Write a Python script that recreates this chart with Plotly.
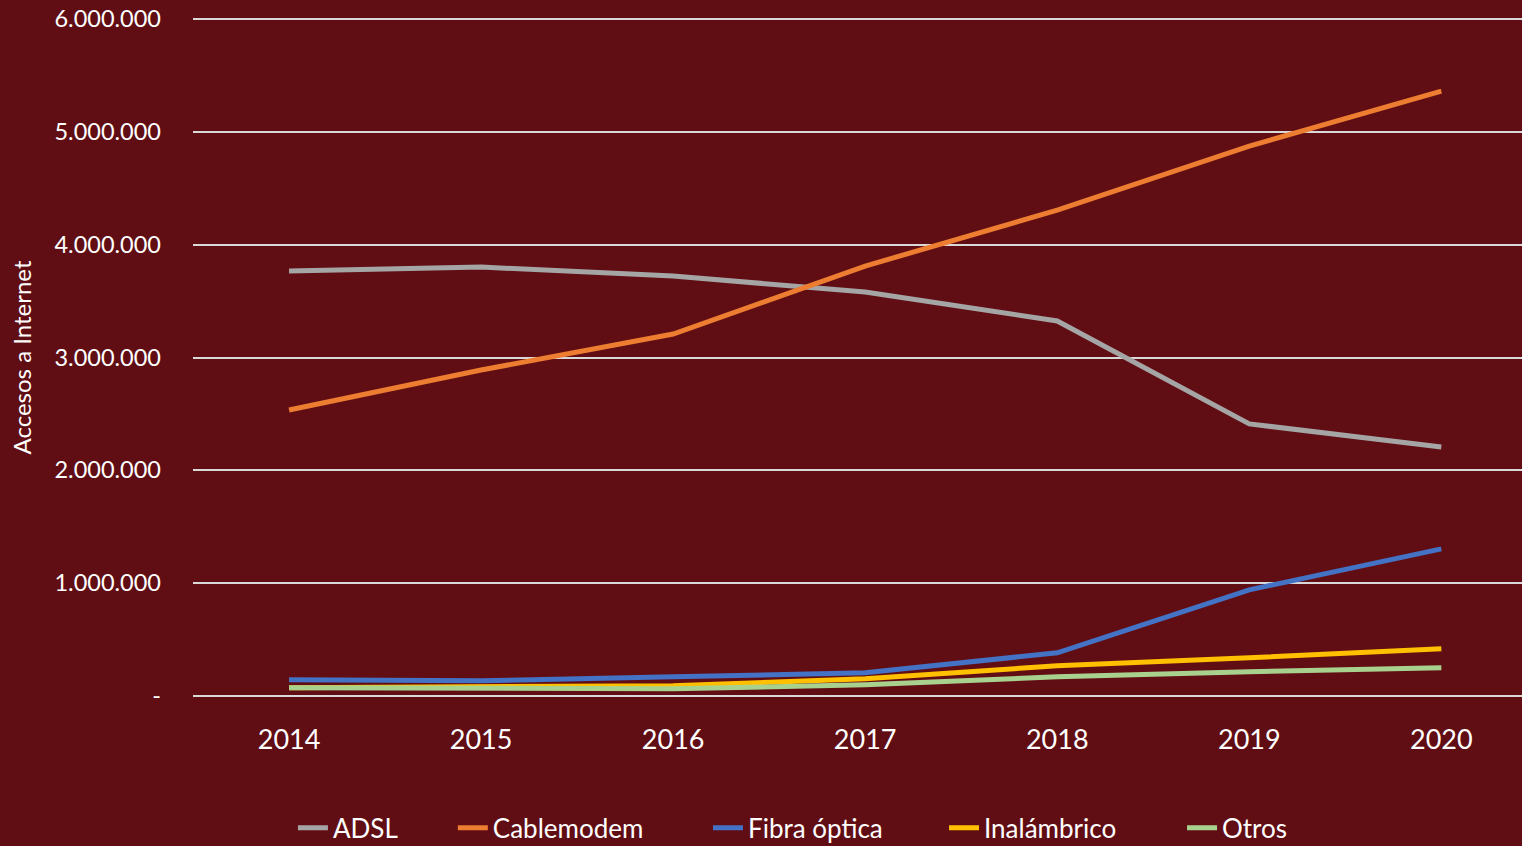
import plotly.graph_objects as go

YEARS = ["2014", "2015", "2016", "2017", "2018", "2019", "2020"]

ADSL = [3767000, 3802000, 3722000, 3581000, 3324000, 2411000, 2207000]
CABLEMODEM = [2535000, 2889000, 3208000, 3811000, 4307000, 4875000, 5362000]
FIBRA = [142000, 133000, 168000, 204000, 381000, 939000, 1303000]
INALAMBRICO = [71000, 80000, 89000, 151000, 266000, 337000, 417000]
OTROS = [71000, 62000, 62000, 97000, 168000, 213000, 248000]

Y_TICKS = [0, 1000000, 2000000, 3000000, 4000000, 5000000, 6000000]
Y_TICK_TEXT = ["-", "1.000.000", "2.000.000", "3.000.000", "4.000.000", "5.000.000", "6.000.000"]

BG = "#600E14"
FONT = "Lato"

series = [
    ("ADSL", ADSL, "#A5A5A5"),
    ("Cablemodem", CABLEMODEM, "#ED7D31"),
    ("Fibra óptica", FIBRA, "#4472C4"),
    ("Inalámbrico", INALAMBRICO, "#FFC000"),
    ("Otros", OTROS, "#A9D18E"),
]
# one legend per series so the entries sit where the original has them
legend_x = [0.0752, 0.1955, 0.3875, 0.5651, 0.7442]

fig = go.Figure()
layout_legends = {}
for i, (name, vals, color) in enumerate(series):
    key = "legend" if i == 0 else f"legend{i + 1}"
    fig.add_trace(go.Scatter(x=YEARS, y=vals, mode="lines", name=name,
                             line=dict(color=color, width=5), legend=key))
    layout_legends[key] = dict(
        orientation="h",
        x=legend_x[i],
        xanchor="left",
        yref="container",
        y=0.0215,
        yanchor="middle",
        font=dict(size=26, color="white"),
        bgcolor="rgba(0,0,0,0)",
    )

fig.update_layout(
    width=1522,
    height=846,
    paper_bgcolor=BG,
    plot_bgcolor=BG,
    font=dict(family=FONT, color="white"),
    # range padded slightly so the 0 and 6.000.000 gridlines get drawn
    margin=dict(l=193, r=0, t=17, b=148),
    showlegend=True,
    xaxis=dict(
        type="category",
        range=[-0.5, 6.42],
        showgrid=False,
        zeroline=False,
        showline=False,
        tickfont=dict(size=27, color="white"),
        ticklabelstandoff=23,
    ),
    yaxis=dict(
        range=[-20000, 6020000],
        tickvals=Y_TICKS,
        ticktext=Y_TICK_TEXT,
        showgrid=True,
        gridcolor="#D9D9D9",
        gridwidth=2,
        zeroline=False,
        showline=False,
        tickfont=dict(size=23.5, color="white"),
        ticklabelstandoff=31,
        title=dict(text="Accesos a Internet", font=dict(size=24, color="white"), standoff=16),
    ),
    **layout_legends,
)

fig.write_html("out.html", config={"displayModeBar": False},
               post_script="document.body.style.margin='0';")
